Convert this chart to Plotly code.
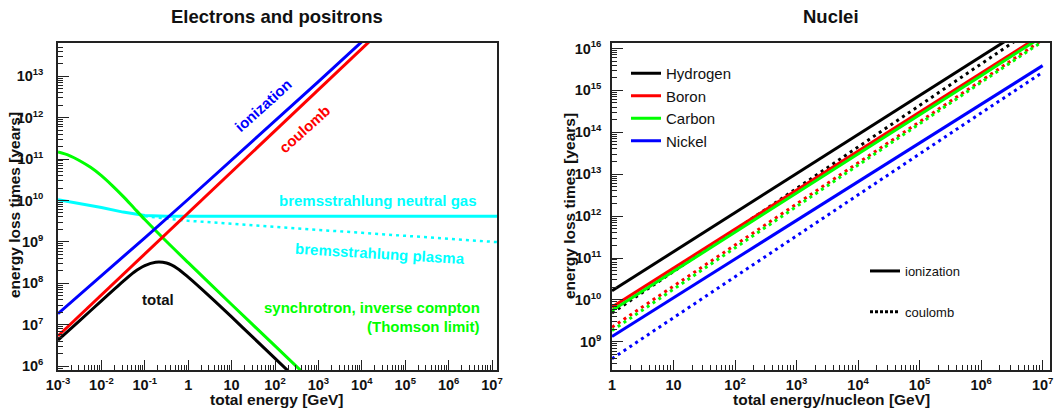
import numpy as np
import plotly.graph_objects as go

# ---------------- Left panel: electrons and positrons (log10 values) ----------------
ep_ion_logE = [-3, -2, -1, 0, 1, 2, 3, 4, 4.2]
ep_ion_logt = [7.27, 8.18, 9.10, 10.03, 10.97, 11.92, 12.87, 13.83, 14.02]

ep_coul_logE = [-3, -2, -1, 0, 1, 2, 3, 4, 4.3]
ep_coul_logt = [6.73, 7.72, 8.71, 9.70, 10.69, 11.68, 12.67, 13.66, 13.96]

ep_sync_logE = [-3, -2.75, -2.5, -2.25, -2, -1.75, -1.5, -1.25, -1, -0.5, 0, 1, 2, 2.7]
ep_sync_logt = [11.17, 11.09, 10.96, 10.80, 10.60, 10.36, 10.10, 9.82, 9.54, 9.01, 8.50, 7.49, 6.49, 5.79]

ep_gas_logE = [-3, -2.5, -2, -1.5, -1, -0.5, 0, 1, 2, 3, 4, 5, 6, 7, 7.2]
ep_gas_logt = [10.02, 9.93, 9.83, 9.72, 9.64, 9.62, 9.62, 9.62, 9.62, 9.62, 9.62, 9.62, 9.62, 9.62, 9.62]

ep_plasma_logE = [-1, -0.5, 0, 1, 2, 3, 4, 5, 6, 7, 7.2]
ep_plasma_logt = [9.62, 9.57, 9.51, 9.44, 9.36, 9.29, 9.22, 9.15, 9.07, 9.00, 8.99]

ep_total_logE = [-3, -2.5, -2, -1.5, -1.25, -1, -0.75, -0.5, -0.25, 0, 0.5, 1, 1.5, 2, 2.4]
ep_total_logt = [6.63, 7.10, 7.58, 8.05, 8.27, 8.43, 8.51, 8.49, 8.36, 8.15, 7.68, 7.19, 6.69, 6.19, 5.79]

# ---------------- Right panel: nuclei (log10 values) ----------------
nuc_logE = [0, 1, 2, 3, 4, 5, 6, 7]
nuc_names = ["Hydrogen", "Boron", "Carbon", "Nickel"]
nuc_ion_logt = {
    "Hydrogen": [10.22, 11.15, 12.08, 13.02, 13.95, 14.88, 15.81, 16.74],
    "Boron":    [9.83, 10.76, 11.69, 12.62, 13.55, 14.48, 15.41, 16.34],
    "Carbon":   [9.75, 10.68, 11.62, 12.55, 13.49, 14.42, 15.35, 16.29],
    "Nickel":   [9.13, 10.05, 10.98, 11.90, 12.82, 13.75, 14.67, 15.59],
}
nuc_coul_logt = {
    "Hydrogen": [9.69, 10.68, 11.67, 12.66, 13.65, 14.64, 15.63, 16.62],
    "Boron":    [9.35, 10.33, 11.31, 12.29, 13.27, 14.25, 15.23, 16.21],
    "Carbon":   [9.27, 10.26, 11.24, 12.23, 13.21, 14.20, 15.19, 16.17],
    "Nickel":   [8.60, 9.58, 10.55, 11.53, 12.50, 13.48, 14.46, 15.43],
}
nuc_colors = {"Hydrogen": "#000000", "Boron": "#ff0000", "Carbon": "#00ff00", "Nickel": "#0000ff"}

# ---------------- Tick labels (decade exponents) ----------------
left_x_exps = [-3, -2, -1, 0, 1, 2, 3, 4, 5, 6, 7]
left_y_exps = [6, 7, 8, 9, 10, 11, 12, 13]
right_x_exps = [0, 1, 2, 3, 4, 5, 6, 7]
right_y_exps = [9, 10, 11, 12, 13, 14, 15, 16]

SUP = 9.5


def dec_label(n):
    if n == 0:
        return "1"
    if n == 1:
        return "10"
    return '10<sup><span style="font-size:%spx">%d</span></sup>' % (SUP, n)


def p10(v):
    return 10 ** np.array(v, dtype=float)


def minor_vals(lo, hi):
    return [m * 10.0 ** n for n in range(lo, hi + 1) for m in range(2, 10)]


FONT = "Liberation Sans, Arial, Helvetica, sans-serif"
W, H = 1054, 408
ML, MR, MT, MB = 58, 4, 43, 38
PW, PH = W - ML - MR, H - MT - MB


def px(x):
    return (x - ML) / PW


def py(y):
    return (H - MB - y) / PH


fig = go.Figure()

LW = 3
fig.add_trace(go.Scatter(x=p10(ep_gas_logE), y=p10(ep_gas_logt), mode="lines",
                         line=dict(color="#00ffff", width=LW), showlegend=False, xaxis="x", yaxis="y"))
fig.add_trace(go.Scatter(x=p10(ep_plasma_logE), y=p10(ep_plasma_logt), mode="lines",
                         line=dict(color="#00ffff", width=2.5, dash="3px,4px"), showlegend=False, xaxis="x", yaxis="y"))
fig.add_trace(go.Scatter(x=p10(ep_sync_logE), y=p10(ep_sync_logt), mode="lines",
                         line=dict(color="#00ff00", width=LW, shape="spline", smoothing=0.8), showlegend=False, xaxis="x", yaxis="y"))
fig.add_trace(go.Scatter(x=p10(ep_coul_logE), y=p10(ep_coul_logt), mode="lines",
                         line=dict(color="#ff0000", width=LW), showlegend=False, xaxis="x", yaxis="y"))
fig.add_trace(go.Scatter(x=p10(ep_ion_logE), y=p10(ep_ion_logt), mode="lines",
                         line=dict(color="#0000ff", width=LW), showlegend=False, xaxis="x", yaxis="y"))
fig.add_trace(go.Scatter(x=p10(ep_total_logE), y=p10(ep_total_logt), mode="lines",
                         line=dict(color="#000000", width=LW, shape="spline", smoothing=0.7), showlegend=False, xaxis="x", yaxis="y"))

for name in nuc_names:
    fig.add_trace(go.Scatter(x=p10(nuc_logE), y=p10(nuc_coul_logt[name]), mode="lines",
                             line=dict(color=nuc_colors[name], width=3, dash="3px,4px"),
                             showlegend=False, xaxis="x2", yaxis="y2"))
for name in nuc_names:
    fig.add_trace(go.Scatter(x=p10(nuc_logE), y=p10(nuc_ion_logt[name]), mode="lines",
                             line=dict(color=nuc_colors[name], width=3),
                             name=name, legend="legend", xaxis="x2", yaxis="y2"))
fig.add_trace(go.Scatter(x=[None], y=[None], mode="lines", line=dict(color="#000", width=3),
                         name="ionization", legend="legend2", legendgroup="a", xaxis="x2", yaxis="y2"))
fig.add_trace(go.Scatter(x=[None], y=[None], mode="lines", line=dict(color="#000", width=3, dash="3px,2px"),
                         name="coulomb", legend="legend2", legendgroup="b", xaxis="x2", yaxis="y2"))

axis_common = dict(
    type="log", showgrid=False, zeroline=False, showline=True, mirror=True,
    linecolor="#222", linewidth=1.5, ticks="inside", tickcolor="#222", tickwidth=1,
    tickmode="array", automargin=False, ticklabeloverflow="allow",
    tickfont=dict(family=FONT, size=14.5, color="#111", weight="bold"),
)


def minor(lo, hi):
    return dict(ticks="inside", ticklen=5, tickcolor="#222", tickwidth=1, showgrid=False,
                tickmode="array", tickvals=minor_vals(lo, hi))


def axis(exps, mlo, mhi, **kw):
    d = dict(axis_common)
    d.update(tickvals=[10.0 ** n for n in exps], ticktext=[dec_label(n) for n in exps],
             minor=minor(mlo, mhi))
    d.update(kw)
    return d


fig.update_layout(
    width=W, height=H,
    margin=dict(l=ML, r=MR, t=MT, b=MB),
    paper_bgcolor="white", plot_bgcolor="white",
    font=dict(family=FONT),
    xaxis=axis(left_x_exps, -3, 7, domain=[0, px(497)], range=[-3, 7.115], ticklen=10,
               ticklabelstandoff=1, anchor="y"),
    yaxis=axis(left_y_exps, 5, 13, domain=[0, 1], range=[5.91, 13.8], ticklen=11,
               ticklabelstandoff=10, anchor="x"),
    xaxis2=axis(right_x_exps, 0, 7, domain=[px(612), 1], range=[0, 7.12], ticklen=10,
                ticklabelstandoff=1, anchor="y2"),
    yaxis2=axis(right_y_exps, 8, 16, domain=[0, 1], range=[8.33, 16.13], ticklen=11,
                ticklabelstandoff=6, anchor="x2"),
    legend=dict(x=px(626), y=py(57), xanchor="left", yanchor="top", bgcolor="rgba(0,0,0,0)",
                font=dict(family=FONT, size=15, color="#111"), borderwidth=0, tracegroupgap=0),
    legend2=dict(x=px(865), y=py(256), xanchor="left", yanchor="top", bgcolor="rgba(0,0,0,0)",
                 font=dict(family=FONT, size=13, color="#111"), borderwidth=0, tracegroupgap=21),
)

ann = []


def paper_text(text, x, y, size, angle=0, bold=True, color="#111"):
    ann.append(dict(text=text, x=px(x), y=py(y), xref="paper", yref="paper", showarrow=False,
                    xanchor="center", yanchor="middle", textangle=angle,
                    font=dict(family=FONT, size=size, color=color, weight="bold" if bold else "normal")))


paper_text("Electrons and positrons", 277, 17, 18.5)
paper_text("Nuclei", 831, 16, 18.5)
paper_text("total energy [GeV]", 277, 399, 15.5)
paper_text("total energy/nucleon [GeV]", 831, 399, 15.5)
paper_text("energy loss times [years]", 14, 205, 15.5, angle=-90)
paper_text("energy loss times [years]", 569, 206, 15.5, angle=-90)


def data_text(text, lx, ly, color, angle=0, xanchor="center"):
    ann.append(dict(text=text, x=lx, y=ly, xref="x", yref="y", showarrow=False,
                    xanchor=xanchor, yanchor="middle", textangle=angle,
                    font=dict(family=FONT, size=15, color=color, weight="bold")))


data_text("ionization", 1.72, 12.3, "#0000ff", angle=-42)
data_text("coulomb", 2.69, 11.74, "#ff0000", angle=-42)
data_text("bremsstrahlung neutral gas", 4.37, 10.0, "#00ffff")
data_text("bremsstrahlung plasma", 4.42, 8.71, "#00ffff", angle=3.5)
data_text("total", -0.7, 7.6, "#111")
data_text("synchrotron, inverse compton", 6.77, 7.41, "#00ff00", xanchor="right")
data_text("(Thomson limit)", 6.77, 6.95, "#00ff00", xanchor="right")

fig.update_layout(annotations=ann)

fig.write_html("out.html")
